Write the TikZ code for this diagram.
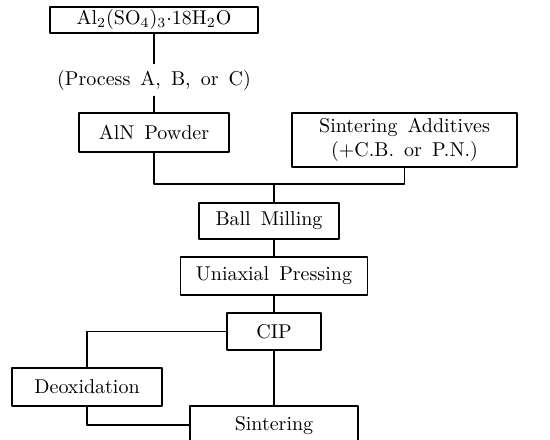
\documentclass[tikz,border=0pt]{standalone}
\begin{document}
\begin{tikzpicture}[x=0.5pt,y=-0.5pt,line join=round,line cap=round,
	box/.style={draw,line width=0.65pt,inner sep=0pt,align=center},
	lnk/.style={line width=0.65pt}]
	\useasboundingbox (0,0) rectangle (550,439);
	\clip (0,0) rectangle (550,439);
	\node[box,minimum width=104pt,minimum height=13pt] (salt) at (154,20) {Al$_2$(SO$_4$)$_3\cdot$18H$_2$O};
	\node[inner sep=3pt] (proc) at (154,80) {(Process\, A,\, B,\, or\, C)};
	\node[box,minimum width=75pt,minimum height=19.5pt] (aln) at (154,132.5) {AlN\, Powder};
	\node[box,minimum width=112.5pt,minimum height=27pt] (add) at (404.5,140) {Sintering\, Additives\\(+C.B.\, or\, P.N.)};
	\node[box,minimum width=70pt,minimum height=18pt] (ball) at (269,221) {Ball\, Milling};
	\node[box,minimum width=93.5pt,minimum height=19pt] (uni) at (274,276) {Uniaxial\, Pressing};
	\node[box,minimum width=47pt,minimum height=18.5pt] (cip) at (274,331.5) {CIP};
	\node[box,minimum width=75pt,minimum height=19pt] (deox) at (87,387) {Deoxidation};
	\node[box,minimum width=84pt,minimum height=19pt] (sint) at (274,425) {Sintering};
	\coordinate (mix) at (274,184);
	
	\draw[lnk] (salt.south) -- (proc.north);
	\draw[lnk] (proc.south) -- (aln.north);
	\draw[lnk] (aln.south) |- (mix) -| (add.south);
	\draw[lnk] (mix) -- (mix |- ball.north);
	\draw[lnk] (mix |- ball.south) -- (uni.north);
	\draw[lnk] (uni.south) -- (cip.north);
	\draw[lnk] (cip.west) -| (deox.north);
	\draw[lnk] (deox.south) |- (sint.west);
	\draw[lnk] (cip.south) -- (sint.north);
\end{tikzpicture}
\end{document}
